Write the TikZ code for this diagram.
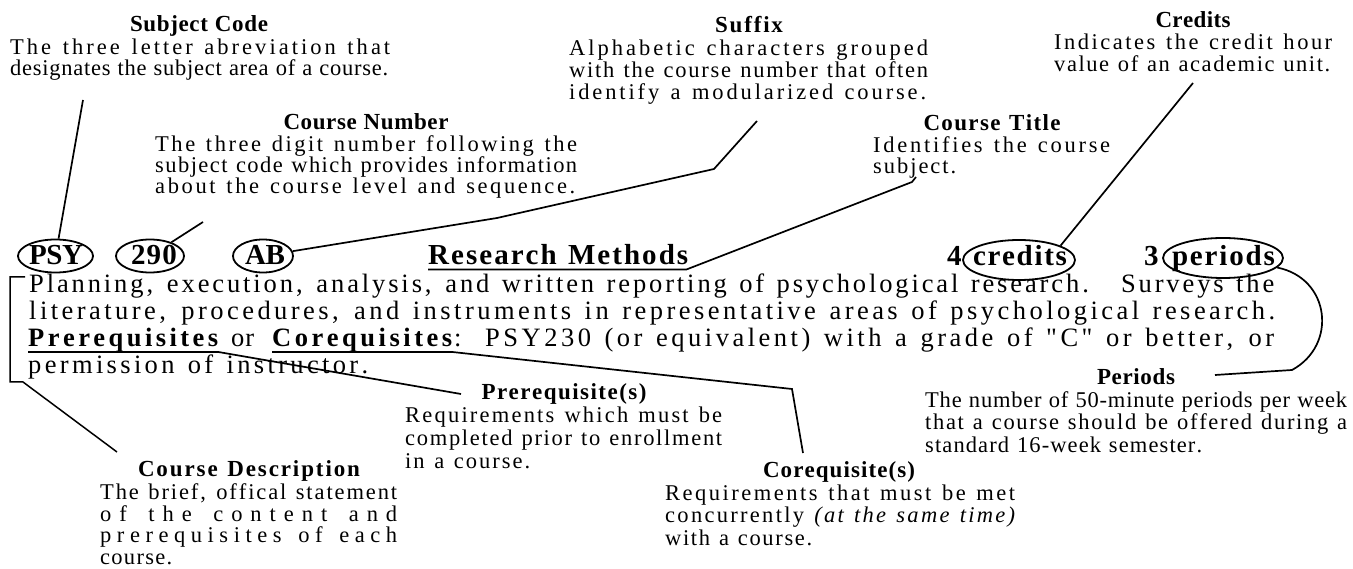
\documentclass[tikz,border=0pt]{standalone}
\usepackage{fontspec}
\setmainfont{Liberation Serif}[Ligatures=TeXOff]
\usetikzlibrary{shapes.geometric,calc}
% letter-spacing fit: glue between every pair of printable characters
\newcount\fitcc
\fitcc=33
\loop
\XeTeXcharclass\fitcc=1
\advance\fitcc by 1
\ifnum\fitcc<127
\repeat
\XeTeXinterchartoks 1 1 = {\hskip 0pt plus 1fil minus 1fil\relax}
\newcommand\fitto[2]{\makebox[#1][s]{\XeTeXinterchartokenstate=1 \spaceskip=\fontdimen2\font plus 2fil minus 2fil\relax #2}}
\newcommand\annfont{\fontsize{22.5pt}{22.5pt}\selectfont}
\newcommand\ttlfont{\fontsize{23pt}{23pt}\selectfont\bfseries}
\newcommand\bodyfont{\fontsize{26.5pt}{27pt}\selectfont}
\newcommand\rowfont{\fontsize{29pt}{29pt}\selectfont\bfseries}
\begin{document}
\begin{tikzpicture}[x=1pt,y=-1pt,
  ann/.style={inner sep=0pt, anchor=base west, font=\annfont},
  ttl/.style={inner sep=0pt, anchor=base, font=\ttlfont},
  bodyt/.style={inner sep=0pt, anchor=base west, font=\bodyfont},
  rowt/.style={inner sep=0pt, anchor=base, font=\rowfont},
  oval/.style={draw, ellipse, line width=1.8pt, inner sep=0pt},
  conn/.style={line width=1.7pt, line join=miter}]
\fill[white] (0,0) rectangle (1353,569);
\useasboundingbox (0,0) rectangle (1353,569);

% ---- Subject Code
\node[ttl] (sc-t) at (199,32) {\fitto{138pt}{Subject Code}};
\node[ann] (sc-1) at (10,55) {\fitto{380pt}{The three letter abreviation that}};
\node[ann] (sc-2) at (10,76) {\fitto{378pt}{designates the subject area of a course.}};

% ---- Course Number
\node[ttl] (cn-t) at (366,130) {\fitto{165pt}{Course Number}};
\node[ann] (cn-1) at (155,152) {\fitto{422pt}{The three digit number following the}};
\node[ann] (cn-2) at (155,173) {\fitto{422pt}{subject code which provides information}};
\node[ann] (cn-3) at (155,194) {\fitto{420pt}{about the course level and sequence.}};

% ---- Suffix
\node[ttl] (sf-t) at (749,33) {\fitto{68pt}{Suffix}};
\node[ann] (sf-1) at (569,56) {\fitto{359pt}{Alphabetic characters grouped}};
\node[ann] (sf-2) at (569,78) {\fitto{359pt}{with the course number that often}};
\node[ann] (sf-3) at (569,100) {\fitto{357pt}{identify a modularized course.}};

% ---- Course Title
\node[ttl] (ct-t) at (992,131) {\fitto{137pt}{Course Title}};
\node[ann] (ct-1) at (873,153) {\fitto{237pt}{Identifies the course}};
\node[ann] (ct-2) at (873,174) {\fitto{83pt}{subject.}};

% ---- Credits
\node[ttl] (cr-t) at (1193,28) {\fitto{75pt}{Credits}};
\node[ann] (cr-1) at (1054,50) {\fitto{278pt}{Indicates the credit hour}};
\node[ann] (cr-2) at (1054,72) {\fitto{276pt}{value of an academic unit.}};

% ---- course row
\node[rowt] (psy-t) at (56,265) {\fitto{54pt}{PSY}};
\node[rowt] (n290-t) at (154,265) {\fitto{46pt}{290}};
\node[rowt] (ab-t) at (265,265) {\fitto{40pt}{AB}};
\node[rowt, anchor=base west] (rm) at (428,265) {\fitto{260pt}{Research Methods}};
\node[rowt, anchor=base west] (four) at (947,266) {4};
\node[rowt] (cred-t) at (1020,266) {\fitto{94pt}{credits}};
\node[rowt, anchor=base west] (three) at (1144,266) {3};
\node[rowt] (per-t) at (1223.5,266) {\fitto{103pt}{periods}};

\node[oval, minimum width=75pt, minimum height=33pt] (psy) at (55.5,256) {};
\node[oval, minimum width=68pt, minimum height=33pt] (n290) at (150,256) {};
\node[oval, minimum width=60pt, minimum height=33pt] (ab) at (263,256) {};
\node[oval, minimum width=112pt, minimum height=40pt] (cred) at (1019,260) {};
\node[oval, minimum width=120pt, minimum height=40pt] (per) at (1223,258) {};

% ---- description body
\node[bodyt] (b1) at (29,293) {\fitto{1245pt}{Planning, execution, analysis, and written reporting of psychological research.\hspace{6pt} Surveys the}};
\node[bodyt] (b2) at (29,320) {\fitto{1246pt}{literature, procedures, and instruments in representative areas of psychological research.}};
\node[bodyt, font=\bodyfont\bfseries] (b3a) at (28,347) {\fitto{190pt}{Prerequisites}};
\node[bodyt] (b3b) at (231,347) {\fitto{23pt}{or}};
\node[bodyt, font=\bodyfont\bfseries] (b3c) at (272,347) {\fitto{180pt}{Corequisites}};
\node[bodyt] (b3d) at (454,347) {:};
\node[bodyt] (b3e) at (485,347) {\fitto{789pt}{PSY230 (or equivalent) with a grade of "C" or better, or}};
\node[bodyt] (b4) at (28,374) {\fitto{340pt}{permission of instructor.}};

% ---- Prerequisite(s)
\node[ttl] (pq-t) at (564,400) {\fitto{165pt}{Prerequisite(s)}};
\node[ann] (pq-1) at (405,423) {\fitto{317pt}{Requirements which must be}};
\node[ann] (pq-2) at (405,446) {\fitto{317pt}{completed prior to enrollment}};
\node[ann] (pq-3) at (405,468) {\fitto{125pt}{in a course.}};

% ---- Corequisite(s)
\node[ttl] (co-t) at (839,477) {\fitto{152pt}{Corequisite(s)}};
\node[ann] (co-1) at (665,500) {\fitto{350pt}{Requirements that must be met}};
\node[ann] (co-2) at (665,522) {\fitto{350pt}{concurrently \textit{(at the same time)}}};
\node[ann] (co-3) at (665,545) {\fitto{147pt}{with a course.}};

% ---- Course Description
\node[ttl] (cd-t) at (249,476) {\fitto{222pt}{Course Description}};
\node[ann] (cd-1) at (100,499) {\fitto{297pt}{The brief, offical statement}};
\node[ann] (cd-2) at (100,521) {\fitto{297pt}{of the content and}};
\node[ann] (cd-3) at (100,542) {\fitto{297pt}{prerequisites of each}};
\node[ann] (cd-4) at (100,564) {\fitto{72pt}{course.}};

% ---- Periods
\node[ttl] (pe-t) at (1136,385) {\fitto{78pt}{Periods}};
\node[ann] (pe-1) at (925,407) {\fitto{422pt}{The number of 50-minute periods per week}};
\node[ann] (pe-2) at (925,430) {\fitto{422pt}{that a course should be offered during a}};
\node[ann] (pe-3) at (925,452) {\fitto{277pt}{standard 16-week semester.}};

% ---- connector ends and bends
\coordinate (sc-end) at (83,100);
\coordinate (cn-end) at (203,222);
\coordinate (sf-end) at (757,121);
\coordinate (sf-b2) at (714,169);
\coordinate (sf-b1) at (497,218);
\coordinate (ct-b) at (912,182);
\coordinate (ct-end) at (916,177);
\coordinate (cr-end) at (1193,83);
\coordinate (pe-b) at (1292,370);
\coordinate (pe-end) at (1215,375);
\coordinate (pq-end) at (461,394);
\coordinate (co-b) at (792,389);
\coordinate (co-end) at (803,453);
\coordinate (br-a) at (25,277);
\coordinate (br-b) at (10,277);
\coordinate (br-c) at (10,382);
\coordinate (br-d) at (23,382);
\coordinate (cd-end) at (117,452);

% ---- connectors
\draw[conn] (sc-end) -- (psy);
\draw[conn] (cn-end) -- (n290);
\draw[conn] (sf-end) -- (sf-b2) -- (sf-b1) -- (ab);
\draw[conn] ($(rm.base west)+(0,4.5)$) -- ($(rm.base east)+(-2,4.5)$) -- (ct-b) -- (ct-end);
\draw[conn] (cr-end) -- (cred.19);
\draw[conn] (per.-10) .. controls (1330,278) and (1338,345) .. (pe-b) -- (pe-end);
\draw[conn] ($(b3a.base west)+(0,5)$) -- ($(b3a.base east)+(0,5)$) -- (pq-end);
\draw[conn] ($(b3c.base west)+(0,5)$) -- ($(b3c.base east)+(0,5)$) -- (co-b) -- (co-end);
\draw[conn, line width=1.5pt] (br-a) -- (br-b) -- (br-c) -- (br-d) -- (cd-end);
\end{tikzpicture}
\end{document}
